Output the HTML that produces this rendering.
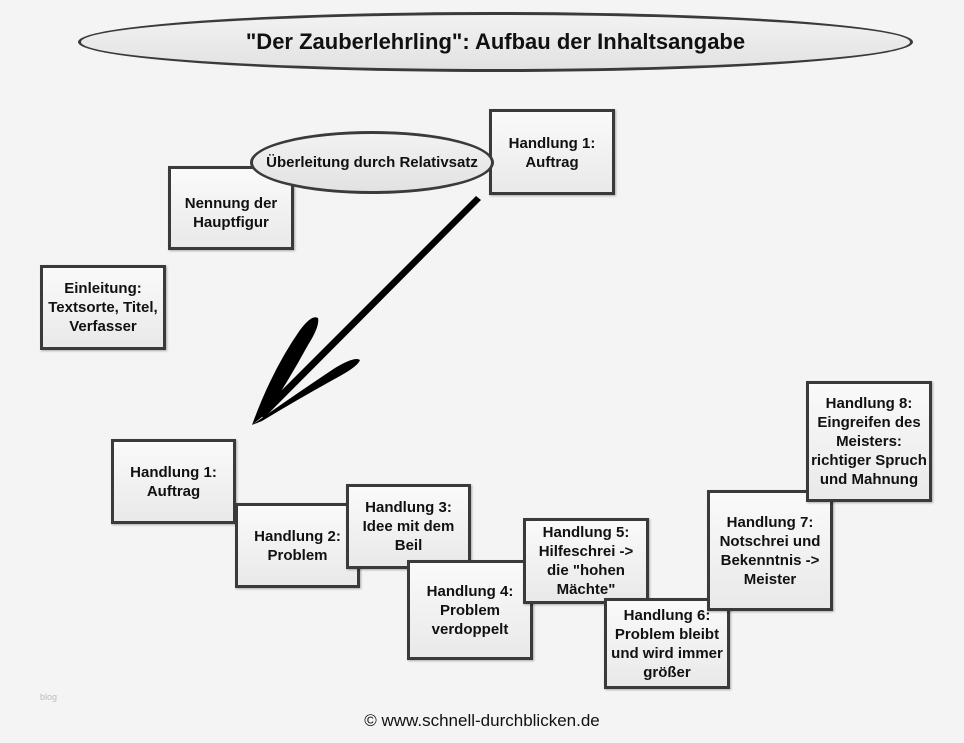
<!DOCTYPE html>
<html><head><meta charset="utf-8"><style>
body{margin:0;width:964px;height:743px;background:#f4f4f4;position:relative;overflow:hidden;font-family:"Liberation Sans",Arial,sans-serif;}
.b{position:absolute;box-sizing:border-box;border:3px solid #3a3a3a;background:linear-gradient(#fafafa,#e9e9e9);display:flex;align-items:center;justify-content:center;text-align:center;font-weight:bold;font-size:15px;line-height:19px;color:#111;box-shadow:1px 1px 2px rgba(0,0,0,.3);white-space:nowrap;}
.e{position:absolute;box-sizing:border-box;border:3px solid #3a3a3a;border-radius:50%;background:linear-gradient(#f2f2f2,#e2e2e2);display:flex;align-items:center;justify-content:center;font-weight:bold;color:#111;white-space:nowrap;}
</style></head><body>
<div class="e" style="left:78px;top:12px;width:835px;height:60px;font-size:22px;">"Der Zauberlehrling": Aufbau der Inhaltsangabe</div>
<div class="b" style="left:168px;top:166px;width:126px;height:84px;padding-top:10px;">Nennung der<br>Hauptfigur</div>
<div class="b" style="left:489px;top:109px;width:126px;height:86px;align-items:flex-start;padding-top:22px;">Handlung 1:<br>Auftrag</div>
<div class="e" style="left:250px;top:131px;width:244px;height:63px;font-size:15px;">Überleitung durch Relativsatz</div>
<div class="b" style="left:40px;top:265px;width:126px;height:85px;">Einleitung:<br>Textsorte, Titel,<br>Verfasser</div>
<svg style="position:absolute;left:0;top:0" width="964" height="743">
<path d="M476,196 L481,200 L264,418 L258,414 Z" fill="#000"/>
<path d="M252,425 Q272,370 300,330 Q312,314 318,318 Q320,326 308,345 Q290,378 268,412 Z" fill="#000"/>
<path d="M252,425 Q290,398 335,368 Q355,356 360,360 Q358,366 340,376 Q300,398 262,421 Z" fill="#000"/>
</svg>
<div class="b" style="left:111px;top:439px;width:125px;height:85px;">Handlung 1:<br>Auftrag</div>
<div class="b" style="left:235px;top:503px;width:125px;height:85px;">Handlung 2:<br>Problem</div>
<div class="b" style="left:346px;top:484px;width:125px;height:85px;">Handlung 3:<br>Idee mit dem<br>Beil</div>
<div class="b" style="left:407px;top:560px;width:126px;height:100px;">Handlung 4:<br>Problem<br>verdoppelt</div>
<div class="b" style="left:523px;top:518px;width:126px;height:86px;">Handlung 5:<br>Hilfeschrei -&gt;<br>die "hohen<br>Mächte"</div>
<div class="b" style="left:604px;top:598px;width:126px;height:91px;">Handlung 6:<br>Problem bleibt<br>und wird immer<br>größer</div>
<div class="b" style="left:707px;top:490px;width:126px;height:121px;">Handlung 7:<br>Notschrei und<br>Bekenntnis -&gt;<br>Meister</div>
<div class="b" style="left:806px;top:381px;width:126px;height:121px;">Handlung 8:<br>Eingreifen des<br>Meisters:<br>richtiger Spruch<br>und Mahnung</div>
<div style="position:absolute;left:0;width:964px;top:711px;text-align:center;font-size:17px;color:#111;">© www.schnell-durchblicken.de</div>
<div style="position:absolute;left:40px;top:692px;font-size:9px;color:#bbb;">blog</div>
</body></html>
